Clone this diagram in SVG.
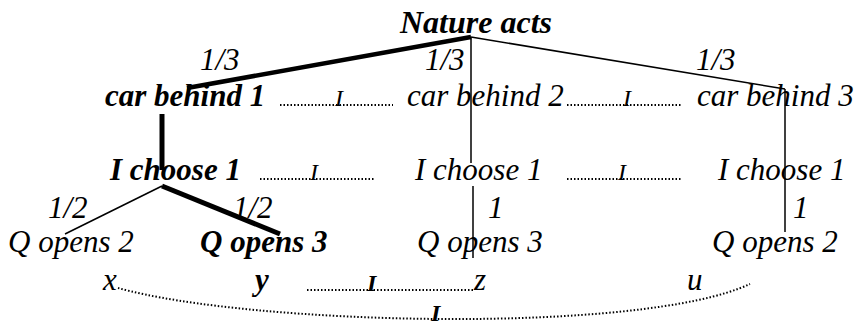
<svg xmlns="http://www.w3.org/2000/svg" width="857" height="328" viewBox="0 0 857 328">
<rect width="857" height="328" fill="#fff"/>
<g id="connectors" stroke="#000" fill="none">
<g stroke-width="4.5">
<line x1="471" y1="37" x2="187" y2="88"/>
<line x1="162" y1="114" x2="162" y2="170" stroke-width="5"/>
<line x1="162" y1="186" x2="280" y2="234" stroke-width="5"/>
</g>
<g stroke-width="1.5">
<line x1="471" y1="37" x2="471" y2="163"/>
<line x1="471" y1="37" x2="785" y2="89"/>
<line x1="785" y1="89" x2="785" y2="232"/>
<line x1="162" y1="186" x2="65" y2="234"/>
<line x1="473" y1="186" x2="473" y2="258"/>
</g>
<g stroke-width="2" stroke-dasharray="1.5 2">
<line x1="280" y1="105" x2="393" y2="105"/>
<line x1="567" y1="105" x2="682" y2="105"/>
<line x1="260" y1="179" x2="375" y2="179"/>
<line x1="567" y1="179" x2="682" y2="179"/>
<line x1="307" y1="290" x2="475" y2="290"/>
<path d="M118 288 C250 325 640 335 750 284"/>
</g>
</g>
<g id="nature"><text font-family="Liberation Serif, serif" font-style="italic" font-weight="bold" font-size="32" x="400" y="33">Nature acts</text></g>
<g id="probs1">
<text font-family="Liberation Serif, serif" font-style="italic" font-size="31" x="200" y="70">1/3</text>
<text font-family="Liberation Serif, serif" font-style="italic" font-size="31" x="425" y="70">1/3</text>
<text font-family="Liberation Serif, serif" font-style="italic" font-size="31" x="696" y="70">1/3</text>
</g>
<g id="car1"><text font-family="Liberation Serif, serif" font-style="italic" font-weight="bold" font-size="31" x="105" y="106">car behind 1</text></g>
<g id="car2"><text font-family="Liberation Serif, serif" font-style="italic" font-size="31" x="407" y="106">car behind 2</text></g>
<g id="car3"><text font-family="Liberation Serif, serif" font-style="italic" font-size="31" x="697" y="106">car behind 3</text></g>
<g id="choose1"><text font-family="Liberation Serif, serif" font-style="italic" font-weight="bold" font-size="31" x="110" y="180">I choose 1</text></g>
<g id="choose2"><text font-family="Liberation Serif, serif" font-style="italic" font-size="31" x="415" y="180">I choose 1</text></g>
<g id="choose3"><text font-family="Liberation Serif, serif" font-style="italic" font-size="31" x="718" y="180">I choose 1</text></g>
<g id="probs2">
<text font-family="Liberation Serif, serif" font-style="italic" font-size="31" x="48" y="218">1/2</text>
<text font-family="Liberation Serif, serif" font-style="italic" font-size="31" x="233" y="218">1/2</text>
<text font-family="Liberation Serif, serif" font-style="italic" font-size="31" x="488" y="218">1</text>
<text font-family="Liberation Serif, serif" font-style="italic" font-size="31" x="793" y="218">1</text>
</g>
<g id="q1"><text font-family="Liberation Serif, serif" font-style="italic" font-size="31" x="8" y="252">Q opens 2</text></g>
<g id="q2"><text font-family="Liberation Serif, serif" font-style="italic" font-weight="bold" font-size="31" x="200" y="252">Q opens 3</text></g>
<g id="q3"><text font-family="Liberation Serif, serif" font-style="italic" font-size="31" x="417" y="252">Q opens 3</text></g>
<g id="q4"><text font-family="Liberation Serif, serif" font-style="italic" font-size="31" x="712" y="252">Q opens 2</text></g>
<g id="outcomes">
<text font-family="Liberation Serif, serif" font-style="italic" font-size="31" x="103" y="290">x</text>
<text font-family="Liberation Serif, serif" font-style="italic" font-weight="bold" font-size="31" x="255" y="290">y</text>
<text font-family="Liberation Serif, serif" font-style="italic" font-size="31" x="474" y="290">z</text>
<text font-family="Liberation Serif, serif" font-style="italic" font-size="31" x="687" y="290">u</text>
</g>
<g id="info">
<text font-family="Liberation Serif, serif" font-style="italic" font-size="24" x="335" y="106">I</text>
<text font-family="Liberation Serif, serif" font-style="italic" font-size="24" x="623" y="106">I</text>
<text font-family="Liberation Serif, serif" font-style="italic" font-size="24" x="310" y="180">I</text>
<text font-family="Liberation Serif, serif" font-style="italic" font-size="24" x="618" y="180">I</text>
<text font-family="Liberation Serif, serif" font-style="italic" font-weight="bold" font-size="24" x="367" y="291">I</text>
<text font-family="Liberation Serif, serif" font-style="italic" font-weight="bold" font-size="24" x="431" y="321">I</text>
</g>
</svg>
